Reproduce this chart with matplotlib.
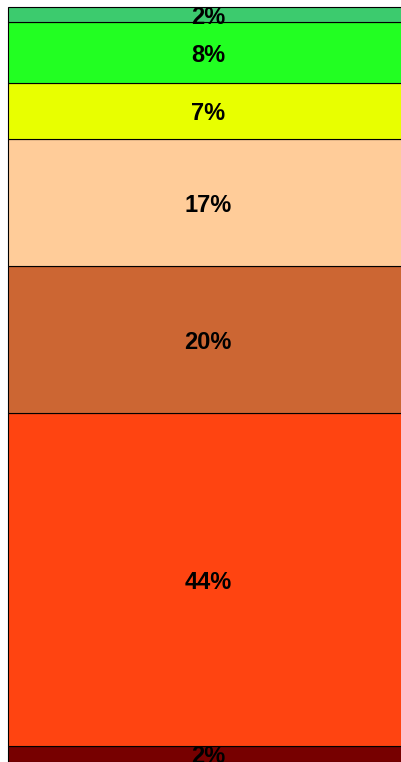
import matplotlib
matplotlib.use("Agg")
import matplotlib.pyplot as plt

categories = ["s1", "s2", "s3", "s4", "s5", "s6", "s7"]  # bottom to top
values = [2.1, 44.1, 19.5, 16.8, 7.4, 8.1, 2.0]
labels = ["2%", "44%", "20%", "17%", "7%", "8%", "2%"]
colors = ["#770000", "#FF4411", "#CC6633", "#FFCC99", "#E8FF00", "#22FF22", "#3CCB6E"]

W, H = 401, 762
fig = plt.figure(figsize=(W / 100, H / 100), dpi=100)
ax = fig.add_axes([8 / W, 0, 400 / W, 755 / H])
ax.set_xlim(-0.5, 0.5)
ax.set_ylim(0, sum(values))
ax.axis("off")

bottom = 0
for cat, v, lab, c in zip(categories, values, labels, colors):
    ax.bar(0, v, width=1.0, bottom=bottom, color=c, edgecolor="black",
           linewidth=0.8, clip_on=False)
    ax.text(0, bottom + v / 2, lab, ha="center", va="center_baseline",
            fontsize=17, fontweight="bold", family=["Liberation Sans", "DejaVu Sans"],
            color="black")
    bottom += v

fig.savefig("out.png", dpi=100)
